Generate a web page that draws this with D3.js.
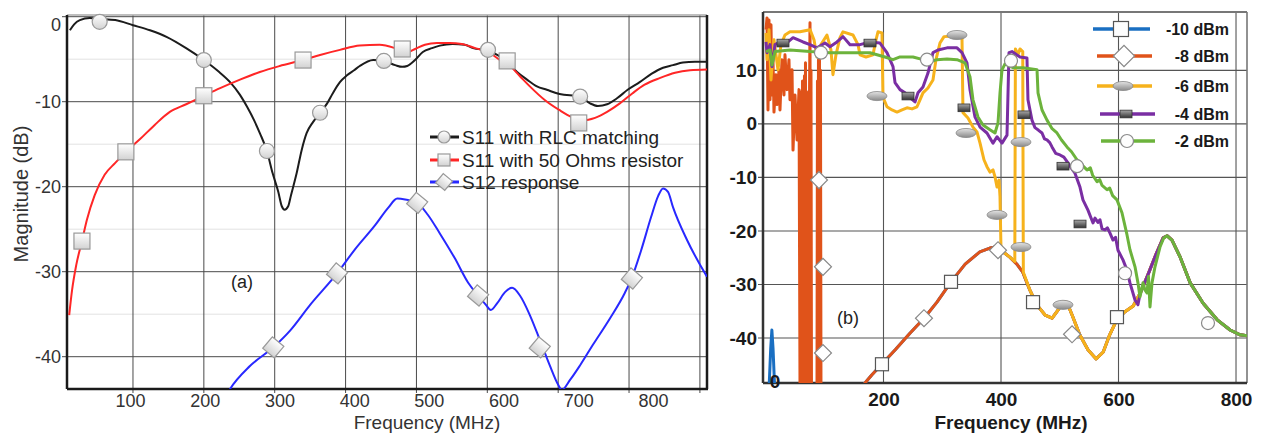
<!DOCTYPE html>
<html><head><meta charset="utf-8">
<script src="https://cdn.jsdelivr.net/npm/d3@7"></script>
<style>
body{margin:0;background:#fff}
svg{display:block}
text{font-family:"Liberation Sans",Arial,sans-serif}
</style>
</head><body>
<svg id="chart" width="1265" height="434"></svg>
<script>
// ---------- Panel (a) data: [MHz, dB] ----------
const s11Rlc = [[11,-1.6],[17,-0.9],[25,-0.4],[39,-0.15],[53,-0.25],[75,-0.4],[100,-1.0],[124,-1.6],[148,-2.4],[175,-3.7],[200,-5.1],[220,-6.4],[237,-7.7],[251,-9.2],[261,-10.6],[271,-12.2],[279,-13.7],[289,-15.8],[297,-18.4],[305,-20.6],[310,-22.3],[314,-22.7],[319,-22.3],[323,-21.0],[331,-18.4],[338,-15.7],[345,-13.7],[354,-12.4],[364,-11.3],[374,-10.2],[382,-9.0],[392,-7.7],[402,-6.9],[412,-6.3],[420,-5.8],[439,-5.1],[454,-5.2],[470,-5.7],[480,-5.9],[487,-5.8],[498,-5.1],[509,-4.15],[522,-3.7],[533,-3.4],[551,-3.2],[568,-3.3],[580,-3.7],[601,-4.0],[614,-4.5],[628,-5.3],[642,-6.5],[656,-7.4],[670,-8.2],[684,-8.6],[702,-9.1],[731,-9.4],[745,-10.2],[756,-10.5],[769,-10.3],[783,-9.6],[798,-8.6],[815,-7.7],[832,-6.7],[848,-6.0],[862,-5.7],[876,-5.4],[893,-5.3],[910,-5.3]];
const s11Res = [[10,-35.1],[14,-32.2],[20,-29.2],[28,-26.4],[35,-23.9],[46,-21.0],[60,-18.6],[75,-17.2],[90,-15.9],[110,-14.4],[131,-12.7],[152,-11.2],[175,-10.3],[200,-9.3],[223,-8.4],[251,-7.4],[279,-6.5],[307,-5.8],[340,-5.1],[364,-4.5],[392,-3.9],[420,-3.4],[448,-3.3],[470,-3.7],[480,-4.0],[488,-4.15],[498,-3.8],[512,-3.3],[529,-3.1],[547,-3.1],[564,-3.2],[583,-3.7],[601,-4.15],[618,-5.1],[632,-5.8],[646,-7.0],[660,-8.2],[681,-9.8],[702,-11.0],[719,-11.8],[735,-12.2],[752,-11.9],[769,-11.2],[787,-10.2],[805,-9.0],[822,-8.0],[844,-7.2],[865,-6.6],[886,-6.3],[910,-6.2]];
const s12Resp = [[232,-44.5],[237,-43.8],[265,-41.1],[298,-38.9],[322,-36.9],[350,-33.9],[388,-30.2],[413,-27.4],[442,-24.5],[460,-22.5],[473,-21.4],[484,-21.5],[501,-21.9],[516,-23.3],[533,-25.5],[554,-28.4],[573,-31.3],[587,-32.8],[598,-33.9],[605,-34.5],[614,-33.7],[625,-32.4],[635,-31.9],[646,-32.8],[660,-35.1],[674,-38.0],[688,-41.0],[700,-43.3],[705,-43.9],[717,-42.7],[731,-41.0],[749,-38.6],[773,-35.5],[794,-32.5],[804,-30.7],[817,-27.5],[831,-23.6],[841,-21.1],[848,-20.2],[855,-20.6],[862,-22.4],[882,-26.3],[910,-30.6]];
const rlcMarks = [[53,-0.6],[200,-5.1],[289,-15.8],[364,-11.3],[454,-5.2],[601,-3.9],[731,-9.4]];
const resMarks = [[28,-26.4],[90,-15.9],[200,-9.3],[340,-5.1],[480,-3.8],[628,-5.2],[729,-12.5]];
const s12Marks = [[298,-38.9],[388,-30.2],[501,-21.9],[587,-32.8],[674,-38.9],[804,-30.8]];
const legendA = ["S11 with RLC matching","S11 with 50 Ohms resistor","S12 response"];
const yTicksA = [0,-10,-20,-30,-40];
const yMinorA = [-5,-15,-25,-35];
const xTicksA = [100,200,300,400,500,600,700,800];
const xGridA = [100,200,300,400,500,600,700,800,900];

// ---------- Panel (b) data: [MHz, dB] ----------
const lowPowerCurve = [[160,-50],[168.5,-48.4],[180,-46.9],[197,-44.9],[220,-42.2],[245,-39.1],[269,-36.3],[291,-33.3],[315,-29.5],[339,-26.2],[364,-23.9],[381,-23.2],[391,-23.0],[400,-23.6],[415,-24.9],[427,-26.2],[437,-27.7],[449,-31.0],[461,-33.8],[475,-35.7],[487,-36.3],[497,-34.8],[505,-33.3],[512,-33.3],[521,-35.7],[534,-39.4],[548,-42.2],[562,-43.9],[574,-42.6],[585,-39.4],[597,-36.6],[611,-35.1],[625,-34.0],[637,-31.6],[650,-28.2],[664,-24.3],[676,-21.3],[683,-20.9],[691,-21.7],[705,-24.9],[722,-29.7],[744,-33.5],[768,-36.6],[790,-38.5],[807,-39.4],[820,-39.6]];
const m10Trace = [[5,-50],[8,-42],[10,-38.5],[12,-42],[15,-50],[150,-50]];
const m8Trace = [[0,17.6],[1.7,19.8],[3.4,2.6],[5.1,19.4],[6.8,4.5],[8.5,18.5],[10.2,5.4],[11.9,12.0],[13.6,2.2],[17,9.2],[18.7,3.6],[22.1,10.1],[23.8,2.6],[27.2,12.0],[30.6,5.4],[32.3,12.9],[35.7,6.4],[39.1,12.0],[40.8,4.5],[44.3,10.1],[46,-4.9],[49.4,5.4],[52.8,-3.0],[56.2,6.4],[57.9,-50],[58.7,6.0],[59.6,-50],[60.4,0.7],[61.3,-50],[62.1,8.0],[63,-50],[63.8,4.5],[64.7,-50],[65.5,9.0],[66.4,-50],[67.2,11.4],[68.1,-50],[68.9,2.0],[69.8,-50],[70.6,-4.9],[71.5,-50],[72.3,6.0],[73.2,-50],[74,4.5],[74.9,18.9],[75.7,-50],[76.6,10.0],[77.4,-50],[78.3,-50],[86.8,-50],[87.6,8.0],[88.5,-50],[89.3,12.0],[90.2,-50],[91,13.3],[91.9,-50],[92.7,10.0],[93.6,-50],[95.3,-50],[150,-50]];
const m6Trace = [[0,17.0],[1.7,12.0],[5.1,17.6],[8.5,8.2],[13.6,15.7],[20.4,10.1],[25.5,14.8],[32.3,16.6],[40.8,17.2],[57.9,17.2],[74.9,17.6],[81.7,15.7],[86.8,12.5],[93.6,14.8],[103.8,16.6],[110.6,13.8],[114,9.2],[119.1,12.9],[125.9,16.1],[131.1,17.2],[148.1,16.6],[156.6,14.8],[160,12.9],[170.2,12.5],[182.1,12.9],[187.2,15.7],[190.6,17.2],[197.4,17.0],[199.1,5.0],[205.9,3.2],[214.5,2.6],[223,2.2],[231.5,2.6],[240,3.0],[248.5,2.8],[257,3.2],[262.1,4.5],[267.2,5.8],[275.7,6.7],[284.2,8.2],[289.3,12.0],[296.1,15.1],[303,16.3],[321.7,16.4],[333.6,16.1],[335.3,2.1],[343.8,1.1],[352.3,-0.6],[359.1,-1.5],[364.3,-3.6],[371,-6.7],[376.1,-8.0],[381.2,-9.0],[386.4,-8.6],[389.8,-9.9],[393.2,-11.8],[396.6,-10.5],[398.3,-13.6],[400,-23.6],[415,-24.9],[423.5,-25.7],[424.5,14.0],[428.9,12.9],[432.3,14.0],[437,13.5],[438,-27.7]];
const m4Trace = [[0,15.3],[1.7,13.3],[6.8,14.8],[10.2,10.7],[15.3,14.8],[23.8,15.3],[34,15.0],[46,16.1],[63,15.3],[74.9,14.8],[86.8,14.2],[100.4,15.1],[108.9,14.4],[120.8,15.3],[131.1,16.3],[143,14.8],[160,14.8],[177,15.3],[194,15.1],[205.9,13.3],[216.2,10.7],[219.6,7.7],[228.1,6.4],[236.6,5.8],[245.1,4.9],[253.6,4.1],[258.7,5.8],[267.2,6.9],[275.7,9.5],[284.2,13.3],[292.7,13.8],[308.1,14.2],[325.1,14.2],[333.6,13.3],[342.1,11.4],[347.2,6.4],[355.7,1.3],[364.3,-0.6],[376.1,-1.7],[386.4,-3.6],[393.2,-2.4],[401.7,-3.6],[410.2,-2.1],[413.6,13.3],[418.7,13.5],[432.3,12.5],[444.2,12.3],[445.9,4.5],[452.7,0.7],[457.8,-0.7],[464,-1.2],[469.8,-1.7],[474,-2.8],[478.3,-3.0],[483,-3.5],[486.8,-4.3],[493,-5.5],[500.4,-5.8],[507,-6.2],[514,-7.3],[520,-8.3],[525.9,-9.2],[534.4,-11.8],[539.5,-14.2],[548,-16.1],[556.6,-18.5],[560,-17.6],[565,-18.4],[568.5,-17.9],[572,-19.6],[577,-19.8],[581,-19.4],[585.5,-20.4],[590.6,-21.7],[595,-21.2],[599.1,-23.6],[607.6,-25.4],[614.4,-27.3],[619.5,-29.7],[628.1,-32.9],[633.1,-33.8]];
const m2Trace = [[0,13.5],[6.8,13.8],[10.2,11.0],[15.3,13.5],[40.8,13.8],[74.9,13.5],[108.9,13.3],[143,13.3],[177,13.3],[202.5,12.5],[216.2,12.0],[228.1,12.5],[250.2,12.5],[267.2,12.0],[279.1,11.6],[291,12.0],[308.1,12.1],[325.1,12.0],[338.7,11.4],[347.2,8.8],[352.3,4.5],[360.8,1.3],[369.3,-0.2],[381.2,-1.1],[389.8,-1.7],[394.9,0.2],[398.3,5.8],[401.7,10.1],[406.8,11.2],[420.4,10.5],[437.4,10.5],[461.3,10.1],[463,5.8],[469.8,2.6],[478.3,0.7],[487,-0.9],[495.3,-1.7],[503,-3.0],[512.3,-4.3],[520,-5.2],[529.3,-6.7],[538,-7.7],[546.4,-8.6],[552,-8.2],[556,-9.6],[563.4,-10.8],[568,-10.4],[572,-11.5],[580.4,-12.3],[585,-12.0],[590,-13.4],[597.4,-14.2],[605.9,-16.6],[614.4,-20.7],[619.5,-23.5],[628.1,-26.7],[633.1,-29.7],[636.5,-32.3],[641.7,-29.7],[645,-31.0],[648.5,-31.6],[651,-28.5],[653.6,-34.2],[657,-29.7],[662.1,-26.7],[670.6,-23.0],[677,-21.3],[682.6,-20.9]];
const sq10Marks = [[197.4,-44.9],[314.9,-29.5],[454.5,-33.3],[597.4,-36.1]];
const dia8Marks = [[90.2,-10.5],[97,-26.7],[97,-42.8],[268.9,-36.3],[394.9,-23.6],[520.9,-39.3]];
const ell6Marks = [[188.9,5.2],[325.1,16.6],[340.4,-1.7],[393.2,-17.0],[434,-3.4],[434,-23.0],[505.5,-33.8]];
const rect4Marks = [[28.9,15.1],[177,15.1],[241.7,5.2],[337,3.0],[439.1,1.7],[505.5,-7.9],[534.5,-18.7]];
const circ2Marks = [[93.6,13.3],[274,12.0],[417,11.8],[529.4,-7.9],[611.1,-27.9],[752.3,-37.2]];
const legendB = ["-10 dBm","-8 dBm","-6 dBm","-4 dBm","-2 dBm"];
const yTicksB = [10,0,-10,-20,-30,-40];
const xTicksB = [200,400,600,800];

// ---------- setup ----------
const svg = d3.select('#chart');
const defs = svg.append('defs');
function grad(id, c1, c2){
  const g = defs.append('linearGradient').attr('id',id).attr('x1',0).attr('y1',0).attr('x2',0).attr('y2',1);
  g.append('stop').attr('offset','0%').attr('stop-color',c1);
  g.append('stop').attr('offset','100%').attr('stop-color',c2);
}
grad('gLight','#ffffff','#d2d2d2');
grad('gEll','#e4e4e4','#8a8a8a');
grad('gRect','#a8a8a8','#333333');

function marker(g, type, x, y, s){
  if(type==='circle'){
    g.append('circle').attr('cx',x).attr('cy',y).attr('r',s/2).attr('fill','url(#gLight)').attr('stroke','#9a9a9a').attr('stroke-width',1.2);
  } else if(type==='circleW'){
    g.append('circle').attr('cx',x).attr('cy',y).attr('r',s/2).attr('fill','#fdfdfd').attr('stroke','#8a8a8a').attr('stroke-width',1.2);
  } else if(type==='square'){
    g.append('rect').attr('x',x-s/2).attr('y',y-s/2).attr('width',s).attr('height',s).attr('fill','url(#gLight)').attr('stroke','#999').attr('stroke-width',1.2);
  } else if(type==='squareW'){
    g.append('rect').attr('x',x-s/2).attr('y',y-s/2).attr('width',s).attr('height',s).attr('fill','#fdfdfd').attr('stroke','#555').attr('stroke-width',1.2);
  } else if(type==='diamond'){
    g.append('rect').attr('x',-s/2).attr('y',-s/2).attr('width',s).attr('height',s).attr('fill','url(#gLight)').attr('stroke','#999').attr('stroke-width',1.2)
      .attr('transform',`translate(${x},${y}) rotate(40)`);
  } else if(type==='diamondW'){
    g.append('rect').attr('x',-s/2).attr('y',-s/2).attr('width',s).attr('height',s).attr('fill','#fff').attr('stroke','#888').attr('stroke-width',1.2)
      .attr('transform',`translate(${x},${y}) rotate(45)`);
  } else if(type==='ellipse'){
    g.append('ellipse').attr('cx',x).attr('cy',y).attr('rx',s/2).attr('ry',s/4.4).attr('fill','url(#gEll)').attr('stroke','#888').attr('stroke-width',0.8);
  } else if(type==='rect'){
    g.append('rect').attr('x',x-s/2).attr('y',y-s*0.32).attr('width',s).attr('height',s*0.64).attr('fill','url(#gRect)').attr('stroke','#333').attr('stroke-width',0.8);
  }
}

// ================= Panel (a) =================
const A = {l:67, t:15, r:707, b:389};
const xA = d3.scaleLinear().domain([6.9, 910]).range([A.l, A.r]);
const yA = d3.scaleLinear().domain([0.2, -43.8]).range([A.t, A.b]);
const xLabA = d3.scaleLinear().domain([100, 800]).range([130, 653]);
defs.append('clipPath').attr('id','clipA').append('rect').attr('x',A.l).attr('y',A.t).attr('width',A.r-A.l).attr('height',A.b-A.t);
const gA = svg.append('g');

gA.selectAll('.minA').data(yMinorA).join('line')
  .attr('x1',A.l).attr('x2',A.r).attr('y1',d=>yA(d)).attr('y2',d=>yA(d)).attr('stroke','#e2e2e2').attr('stroke-width',1);
gA.selectAll('.majA').data(yTicksA).join('line')
  .attr('x1',A.l-5).attr('x2',A.r).attr('y1',d=>yA(d)).attr('y2',d=>yA(d)).attr('stroke','#4a4a4a').attr('stroke-width',1);
gA.selectAll('.vA').data(xGridA).join('line')
  .attr('x1',d=>xA(d)).attr('x2',d=>xA(d)).attr('y1',A.t).attr('y2',A.b+4).attr('stroke','#4a4a4a').attr('stroke-width',1);

// frame
gA.append('line').attr('x1',A.l).attr('x2',A.r).attr('y1',A.t).attr('y2',A.t).attr('stroke','#a8a8a8').attr('stroke-width',1.5);
gA.append('line').attr('x1',A.l).attr('x2',A.l).attr('y1',A.t).attr('y2',A.b).attr('stroke','#1a1a1a').attr('stroke-width',2.5);
gA.append('line').attr('x1',A.l).attr('x2',A.r+1).attr('y1',A.b).attr('y2',A.b).attr('stroke','#1a1a1a').attr('stroke-width',2.5);
gA.append('line').attr('x1',A.r).attr('x2',A.r).attr('y1',A.t).attr('y2',A.b).attr('stroke','#1a1a1a').attr('stroke-width',2.5);

// axes labels
const yAxA = gA.append('g').attr('transform',`translate(${A.l},0)`)
  .call(d3.axisLeft(yA).tickValues(yTicksA).tickSize(0).tickPadding(6).tickFormat(d=>String(d)));
yAxA.select('.domain').remove();
yAxA.selectAll('text').attr('font-size',18).attr('fill','#333').style('font-family','"Liberation Sans",Arial,sans-serif')
  .attr('dy',d=>d===0?'0.75em':'0.32em');
const xAxA = gA.append('g').attr('transform',`translate(0,${A.b})`)
  .call(d3.axisBottom(xLabA).tickValues(xTicksA).tickSize(0).tickPadding(5).tickFormat(d=>String(d)));
xAxA.select('.domain').remove();
xAxA.selectAll('text').attr('font-size',18).attr('fill','#333').style('font-family','"Liberation Sans",Arial,sans-serif');

gA.append('text').attr('x',427).attr('y',429).attr('text-anchor','middle').attr('font-size',19).attr('fill','#333').text('Frequency (MHz)');
gA.append('text').attr('transform','translate(28,194) rotate(-90)').attr('text-anchor','middle').attr('font-size',20).attr('fill','#333').text('Magnitude (dB)');
gA.append('text').attr('x',242).attr('y',282).attr('text-anchor','middle').attr('dominant-baseline','central').attr('font-size',18).attr('fill','#222').text('(a)');

// lines
const lineA = d3.line().x(d=>xA(d[0])).y(d=>yA(d[1])).curve(d3.curveMonotoneX);
const seriesA = [
  {data:s11Rlc, color:'#1c1c1c', marks:rlcMarks, type:'circle', size:15},
  {data:s11Res, color:'#ff2626', marks:resMarks, type:'square', size:16},
  {data:s12Resp, color:'#2828ff', marks:s12Marks, type:'diamond', size:15}
];
const linesA = gA.append('g').attr('clip-path','url(#clipA)');
seriesA.forEach(s=>{
  linesA.append('path').datum(s.data).attr('d',lineA).attr('fill','none').attr('stroke',s.color).attr('stroke-width',2);
});
const mkA = gA.append('g');
seriesA.forEach(s=>{ s.marks.forEach(d=>marker(mkA, s.type, xA(d[0]), yA(d[1]), s.size)); });

// legend (a)
const legAY = [137,160,182];
legendA.forEach((t,i)=>{
  const s = seriesA[i];
  gA.append('line').attr('x1',430).attr('x2',459).attr('y1',legAY[i]).attr('y2',legAY[i]).attr('stroke',s.color).attr('stroke-width',3);
  marker(gA, s.type, 444, legAY[i], 12);
  gA.append('text').attr('x',462).attr('y',legAY[i]).attr('dy','0.35em').attr('font-size',19).attr('fill','#222').text(t);
});

// ================= Panel (b) =================
const B = {l:763, t:12, r:1247, b:383};
const xB = d3.scaleLinear().domain([-5.1, 818.7]).range([B.l, B.r]);
const yB = d3.scaleLinear().domain([20.9, -48.4]).range([B.t, B.b]);
defs.append('clipPath').attr('id','clipB').append('rect').attr('x',B.l).attr('y',B.t).attr('width',B.r-B.l).attr('height',B.b-B.t);
const gB = svg.append('g');

gB.selectAll('.hB').data(yTicksB).join('line')
  .attr('x1',B.l-5).attr('x2',B.r).attr('y1',d=>yB(d)).attr('y2',d=>yB(d)).attr('stroke','#555').attr('stroke-width',1.1);
gB.selectAll('.vB').data(xTicksB).join('line')
  .attr('x1',d=>xB(d)).attr('x2',d=>xB(d)).attr('y1',B.t).attr('y2',B.b).attr('stroke','#555').attr('stroke-width',1.1);
// frame
gB.append('line').attr('x1',B.l).attr('x2',B.r).attr('y1',B.t).attr('y2',B.t).attr('stroke','#777').attr('stroke-width',2);
gB.append('line').attr('x1',B.r).attr('x2',B.r).attr('y1',B.t).attr('y2',B.b).attr('stroke','#777').attr('stroke-width',1.6);
gB.append('line').attr('x1',B.l).attr('x2',B.l).attr('y1',B.t).attr('y2',B.b).attr('stroke','#333').attr('stroke-width',2.5);
gB.append('line').attr('x1',B.l).attr('x2',B.r).attr('y1',B.b).attr('y2',B.b).attr('stroke','#333').attr('stroke-width',2.5);

const yAxB = gB.append('g').attr('transform',`translate(${B.l},0)`)
  .call(d3.axisLeft(yB).tickValues(yTicksB).tickSize(0).tickPadding(6).tickFormat(d=>String(d)));
yAxB.select('.domain').remove();
yAxB.selectAll('text').attr('font-size',19).attr('font-weight','bold').attr('fill','#1a1a1a').style('font-family','"Liberation Sans",Arial,sans-serif');
const xAxB = gB.append('g').attr('transform',`translate(0,${B.b})`)
  .call(d3.axisBottom(xB).tickValues(xTicksB).tickSize(0).tickPadding(10).tickFormat(d=>String(d)));
xAxB.select('.domain').remove();
xAxB.selectAll('text').attr('font-size',19).attr('font-weight','bold').attr('fill','#1a1a1a').style('font-family','"Liberation Sans",Arial,sans-serif');

// lines (b)
const lineB = d3.line().x(d=>xB(d[0])).y(d=>yB(d[1]));
const seriesB = [
  {data:m10Trace.concat(lowPowerCurve), color:'#1a6fc2', marks:sq10Marks, type:'squareW', size:13},
  {data:m8Trace.concat(lowPowerCurve), color:'#e0531a', marks:dia8Marks, type:'diamondW', size:12},
  {data:m6Trace.concat(lowPowerCurve.filter(d=>d[0]>440)), color:'#f6b21c', marks:ell6Marks, type:'ellipse', size:20},
  {data:m4Trace.concat(lowPowerCurve.filter(d=>d[0]>635)), color:'#7a2ea3', marks:rect4Marks, type:'rect', size:12},
  {data:m2Trace.concat(lowPowerCurve.filter(d=>d[0]>684)), color:'#6cb33c', marks:circ2Marks, type:'circleW', size:13}
];
const linesB = gB.append('g').attr('clip-path','url(#clipB)');
seriesB.forEach(s=>{
  linesB.append('path').datum(s.data).attr('d',lineB).attr('fill','none').attr('stroke',s.color).attr('stroke-width',3).attr('stroke-linejoin','round');
});
const mkB = gB.append('g');
seriesB.forEach(s=>{ s.marks.forEach(d=>marker(mkB, s.type, xB(d[0]), yB(d[1]), s.size)); });

gB.append('text').attr('x',xB(0)+9).attr('y',381).attr('text-anchor','middle').attr('dominant-baseline','central').attr('font-size',19).attr('font-weight','bold').attr('fill','#1a1a1a').text('0');
gB.append('text').attr('x',1011).attr('y',429).attr('text-anchor','middle').attr('font-size',19).attr('font-weight','bold').attr('fill','#1a1a1a').text('Frequency (MHz)');
gB.append('text').attr('x',848).attr('y',318).attr('text-anchor','middle').attr('dominant-baseline','central').attr('font-size',18).attr('fill','#222').text('(b)');

// legend (b)
const legBY = [29,56,86,114,141];
const legBX = [[1093,1150,1121],[1097,1152,1124],[1097,1152,1123],[1100,1155,1126],[1101,1155,1127]];
const legBSize = [15,15,20,12,13];
legendB.forEach((t,i)=>{
  const s = seriesB[i];
  gB.append('line').attr('x1',legBX[i][0]).attr('x2',legBX[i][1]).attr('y1',legBY[i]).attr('y2',legBY[i]).attr('stroke',s.color).attr('stroke-width',3.5);
  marker(gB, s.type, legBX[i][2], legBY[i], legBSize[i]);
  gB.append('text').attr('x',1229).attr('y',legBY[i]).attr('dy','0.35em').attr('text-anchor','end').attr('font-size',16).attr('font-weight','bold').attr('fill','#1a1a1a').text(t);
});
</script>
</body></html>
